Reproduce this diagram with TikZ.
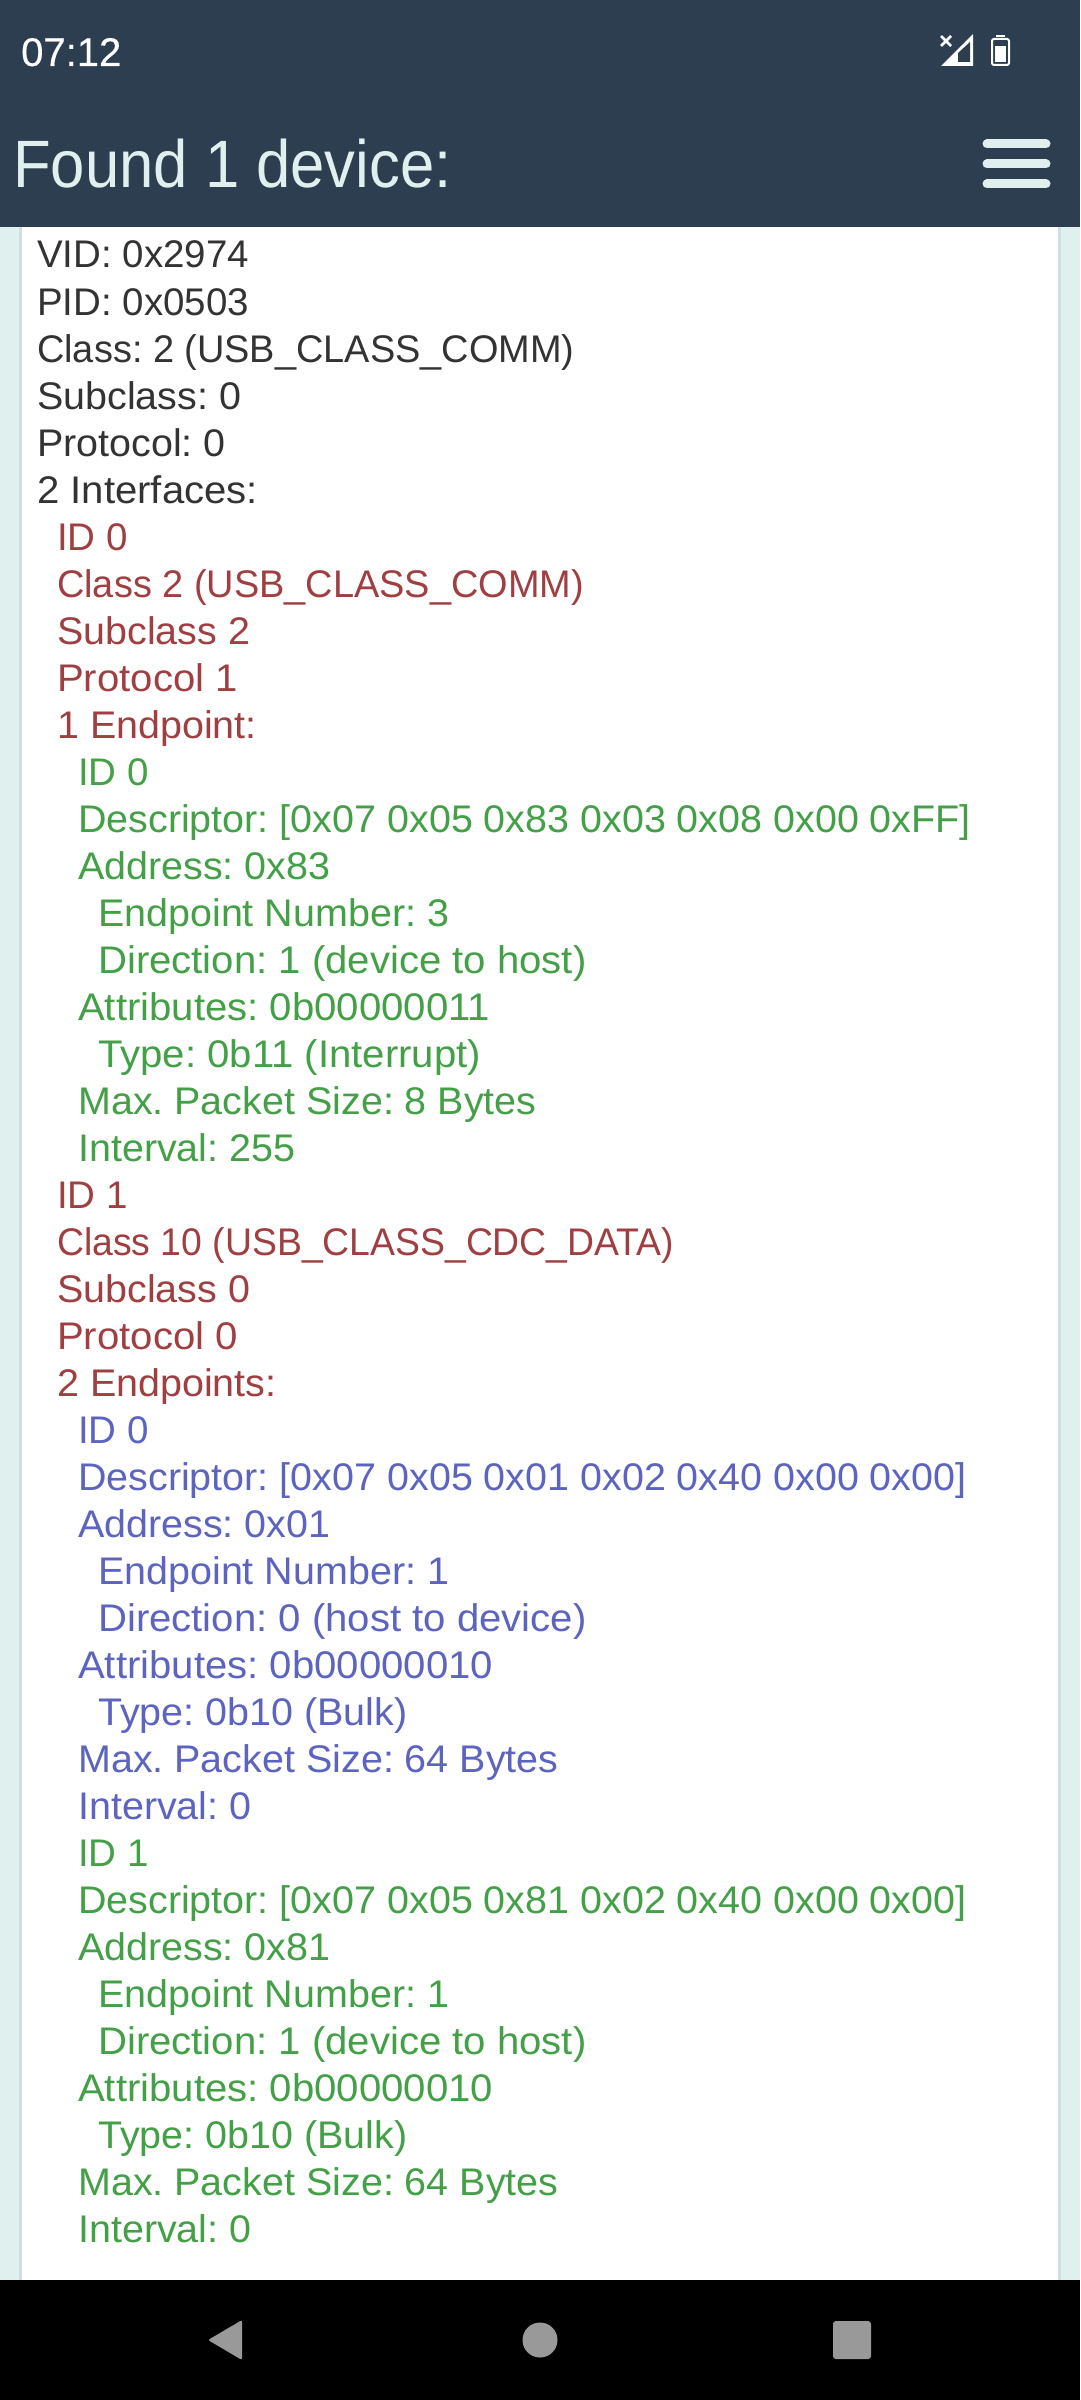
\documentclass[tikz,border=0pt]{standalone}
\usepackage{fontspec}
\setmainfont[FakeStretch=1.025]{Liberation Sans}
\newfontfamily\capsfont[FakeStretch=0.97]{Liberation Sans}
\newfontfamily\commfont[FakeStretch=0.985]{Liberation Sans}
\newfontfamily\plainfont{Liberation Sans}
\newfontfamily\widefont[FakeStretch=1.042]{Liberation Sans}
\newfontfamily\titlefont[FakeStretch=0.92]{Liberation Sans}
\newfontfamily\clockfont[FakeBold=0.4]{Liberation Sans}
\definecolor{barcol}{HTML}{2C3E50}
\definecolor{pagecol}{HTML}{E0F0EF}
\definecolor{edgecol}{HTML}{CFDEDE}
\definecolor{navcol}{HTML}{999999}
\definecolor{blackcol}{HTML}{333333}
\definecolor{redcol}{HTML}{A03F42}
\definecolor{greencol}{HTML}{43A047}
\definecolor{bluecol}{HTML}{5C64C0}
\begin{document}
\begin{tikzpicture}[x=1pt,y=-1pt]
\tikzstyle{line}=[anchor=base west,inner sep=0,font=\fontsize{38.5}{47}\selectfont\frenchspacing]
\tikzstyle{dev}=[line,text=blackcol]
\tikzstyle{iface}=[line,text=redcol]
\tikzstyle{epgreen}=[line,text=greencol]
\tikzstyle{epblue}=[line,text=bluecol]
\tikzstyle{menubar}=[draw=pagecol,line width=9pt,line cap=round]
\useasboundingbox (0,0) rectangle (1080,2400);
\fill[pagecol] (0,0) rectangle (1080,2400);
\fill[edgecol] (19,227) rectangle (1061,2280);
\fill[white] (22,227) rectangle (1058,2280);
\fill[barcol] (0,0) rectangle (1080,227);
\fill[black] (0,2280) rectangle (1080,2400);
\node[anchor=base west,inner sep=0,text=white,font=\fontsize{40}{48}\selectfont\clockfont] (clock) at (21,66) {07:12};
\node[anchor=base west,inner sep=0,text=pagecol,font=\fontsize{67}{80}\selectfont\titlefont] (title) at (13,188) {Found 1 device:};
\fill[white] (941,66) -- (973,34) -- (973,66) -- cycle;
\fill[barcol] (958,62) -- (970,62) -- (970,42) -- (958,53) -- cycle;
\draw[white,line width=2.5pt] (941,36) -- (951,46) (951,36) -- (941,46);
\draw[white,line width=2pt,rounded corners=2pt] (992,39) rectangle (1009,65);
\fill[white] (996,35) rectangle (1005,37);
\fill[white] (995,46) rectangle (1006,62);
\draw[menubar] (987,144) -- (1046,144);
\draw[menubar] (987,164) -- (1046,164);
\draw[menubar] (987,184) -- (1046,184);
\node[dev] (vid) at (37,268) {\plainfont VID: 0x2974};
\node[dev] (pid) at (37,315) {\plainfont PID: 0x0503};
\node[dev] (cls) at (37,362) {\commfont Class: 2 (USB\_CLASS\_COMM)};
\node[dev] (subcls) at (37,409) {Subclass: 0};
\node[dev] (proto) at (37,456) {Protocol: 0};
\node[dev] (ifaces) at (37,503) {\widefont 2 Interfaces:};
\node[iface] (ia) at (57,550) {\plainfont ID 0};
\node[iface] (iacls) at (57,597) {\commfont Class 2 (USB\_CLASS\_COMM)};
\node[iface] (iasub) at (57,644) {Subclass 2};
\node[iface] (iaproto) at (57,691) {\widefont Protocol 1};
\node[iface] (iaeps) at (57,738) {1 Endpoint:};
\node[epgreen] (ea) at (78,785) {\plainfont ID 0};
\node[epgreen] (eadesc) at (78,832) {Descriptor: [0x07 0x05 0x83 0x03 0x08 0x00 0xFF]};
\node[epgreen] (eaaddr) at (78,879) {Address: 0x83};
\node[epgreen] (eanum) at (98,926) {Endpoint Number: 3};
\node[epgreen] (eadir) at (98,973) {\widefont Direction: 1 (device to host)};
\node[epgreen] (eaattr) at (78,1020) {\widefont Attributes: 0b00000011};
\node[epgreen] (eatype) at (98,1067) {\widefont Type: 0b11 (Interrupt)};
\node[epgreen] (easize) at (78,1114) {Max. Packet Size: 8 Bytes};
\node[epgreen] (eaint) at (78,1161) {Interval: 255};
\node[iface] (ib) at (57,1208) {\plainfont ID 1};
\node[iface] (ibcls) at (57,1255) {\capsfont Class 10 (USB\_CLASS\_CDC\_DATA)};
\node[iface] (ibsub) at (57,1302) {Subclass 0};
\node[iface] (ibproto) at (57,1349) {\widefont Protocol 0};
\node[iface] (ibeps) at (57,1396) {2 Endpoints:};
\node[epblue] (eb) at (78,1443) {\plainfont ID 0};
\node[epblue] (ebdesc) at (78,1490) {Descriptor: [0x07 0x05 0x01 0x02 0x40 0x00 0x00]};
\node[epblue] (ebaddr) at (78,1537) {Address: 0x01};
\node[epblue] (ebnum) at (98,1584) {Endpoint Number: 1};
\node[epblue] (ebdir) at (98,1631) {\widefont Direction: 0 (host to device)};
\node[epblue] (ebattr) at (78,1678) {\widefont Attributes: 0b00000010};
\node[epblue] (ebtype) at (98,1725) {Type: 0b10 (Bulk)};
\node[epblue] (ebsize) at (78,1772) {Max. Packet Size: 64 Bytes};
\node[epblue] (ebint) at (78,1819) {Interval: 0};
\node[epgreen] (ec) at (78,1866) {\plainfont ID 1};
\node[epgreen] (ecdesc) at (78,1913) {Descriptor: [0x07 0x05 0x81 0x02 0x40 0x00 0x00]};
\node[epgreen] (ecaddr) at (78,1960) {Address: 0x81};
\node[epgreen] (ecnum) at (98,2007) {Endpoint Number: 1};
\node[epgreen] (ecdir) at (98,2054) {\widefont Direction: 1 (device to host)};
\node[epgreen] (ecattr) at (78,2101) {\widefont Attributes: 0b00000010};
\node[epgreen] (ectype) at (98,2148) {Type: 0b10 (Bulk)};
\node[epgreen] (ecsize) at (78,2195) {Max. Packet Size: 64 Bytes};
\node[epgreen] (ecint) at (78,2242) {Interval: 0};
\fill[navcol,rounded corners=2pt] (242,2320) -- (242,2360) -- (208,2340) -- cycle;
\fill[navcol] (540,2340) circle (17.5);
\fill[navcol,rounded corners=3pt] (833,2321) rectangle (871,2359);
\end{tikzpicture}
\end{document}
